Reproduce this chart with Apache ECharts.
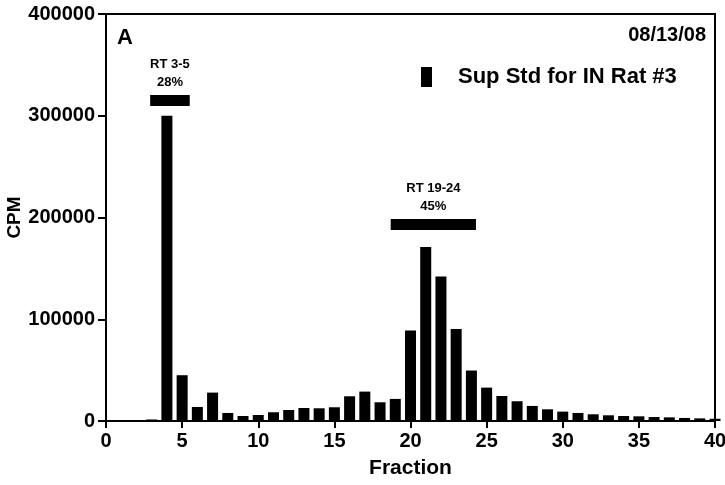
<!DOCTYPE html>
<html><head><meta charset="utf-8">
<script src="https://cdn.jsdelivr.net/npm/echarts@6/dist/echarts.min.js"></script>
<style>html,body{margin:0;padding:0;background:#fff}#c{width:725px;height:485px}</style>
</head><body><div id="c"></div>
<script>
var fractions = [3,4,5,6,7,8,9,10,11,12,13,14,15,16,17,18,19,20,21,22,23,24,25,26,27,28,29,30,31,32,33,34,35,36,37,38,39,40];
var cpm = [1500,300000,45000,13800,27900,7900,4900,5900,8600,10800,12800,12500,13500,24300,28900,18400,21700,89000,171000,142000,90300,49600,32800,24600,19400,14800,11500,9200,7900,6600,5600,4900,4600,3900,3600,3000,2600,2200];
var xTicks = [0,5,10,15,20,25,30,35,40];
var yTicks = [0,100000,200000,300000,400000];
var bracketStart = [2.9, 18.7];
var bracketEnd = [5.5, 24.3];
var bracketLevel = [315000, 193000];
var bracketText = ['RT 3-5\n28%', 'RT 19-24\n45%'];
var seriesName = 'Sup Std for IN Rat #3';
var panelLabel = 'A';
var dateLabel = '08/13/08';

var FF = '"Liberation Sans", Arial, sans-serif';
var barData = fractions.map(function(f,i){return [f, cpm[i]];});
var brData = bracketStart.map(function(s,i){return [s, bracketEnd[i], bracketLevel[i], bracketText[i]];});

var chart = echarts.init(document.getElementById('c'));
chart.setOption({
  animation:false,
  backgroundColor:'#fff',
  grid:{left:106,right:10,top:14,bottom:64,containLabel:false,outerBoundsMode:'none',
    show:true,borderColor:'#000',borderWidth:2,backgroundColor:'transparent'},
  title:[
    {text:panelLabel,left:112,top:22,textStyle:{fontFamily:FF,fontWeight:'bold',fontSize:22,color:'#000'}},
    {text:dateLabel,right:14,top:20,textStyle:{fontFamily:FF,fontWeight:'bold',fontSize:20,color:'#000'}}
  ],
  legend:{left:421,top:66,padding:0,icon:'rect',itemWidth:11,itemHeight:20,
    data:[seriesName],
    textStyle:{fontFamily:FF,fontWeight:'bold',fontSize:22,color:'#000',padding:[0,0,0,21]}},
  xAxis:{type:'value',min:0,max:40,interval:5,
    name:'Fraction',nameLocation:'middle',nameGap:37,nameMoveOverlap:false,
    nameTextStyle:{fontFamily:FF,fontWeight:'bold',fontSize:21,color:'#000'},
    axisLine:{show:true,lineStyle:{color:'#000',width:2}},
    axisTick:{show:true,length:7,lineStyle:{color:'#000',width:2}},
    axisLabel:{margin:10,fontFamily:FF,fontWeight:'bold',fontSize:20,color:'#000',
      formatter:function(v){return xTicks.indexOf(v)>=0?String(v):'';}},
    splitLine:{show:false}},
  yAxis:{type:'value',min:0,max:400000,interval:100000,
    name:'CPM',nameLocation:'middle',nameGap:82,nameRotate:90,nameMoveOverlap:false,
    nameTextStyle:{fontFamily:FF,fontWeight:'bold',fontSize:19,color:'#000'},
    axisLine:{show:true,lineStyle:{color:'#000',width:2}},
    axisTick:{show:true,length:8,lineStyle:{color:'#000',width:2}},
    axisLabel:{margin:11,fontFamily:FF,fontWeight:'bold',fontSize:20,color:'#000',
      formatter:function(v){return yTicks.indexOf(v)>=0?String(v):'';}},
    splitLine:{show:false}},
  series:[
    {name:seriesName,type:'bar',data:barData,barWidth:11,itemStyle:{color:'#000'},clip:true},
    {type:'custom',data:brData,silent:true,
      renderItem:function(params,api){
        var a=api.coord([api.value(0),api.value(2)]);
        var b=api.coord([api.value(1),api.value(2)]);
        var txt=brData[params.dataIndex][3];
        return {type:'group',children:[
          {type:'rect',shape:{x:a[0],y:a[1]-5.5,width:b[0]-a[0],height:11},style:{fill:'#000'}},
          {type:'text',style:{text:txt,x:(a[0]+b[0])/2,y:a[1]-9,align:'center',verticalAlign:'bottom',
            fontFamily:FF,fontWeight:'bold',fontSize:13,lineHeight:18,fill:'#000'}}
        ]};
      }}
  ]
});
</script></body></html>
